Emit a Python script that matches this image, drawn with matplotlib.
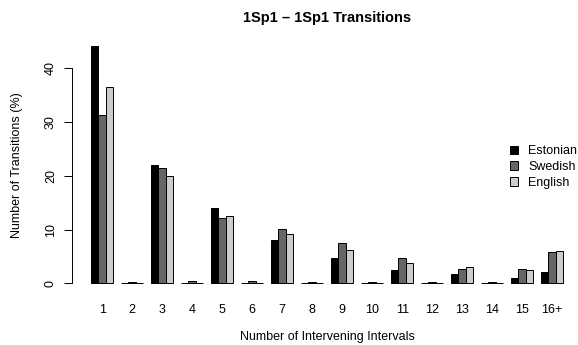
import matplotlib
matplotlib.use("Agg")
import matplotlib.pyplot as plt
import numpy as np
from matplotlib.patches import Patch

plt.rcParams['font.family'] = ['Liberation Sans', 'DejaVu Sans']

# data
intervals = ['1', '2', '3', '4', '5', '6', '7', '8', '9', '10', '11', '12', '13', '14', '15', '16+']
estonian = [44.1, 0.05, 22.0, 0.1, 14.0, 0.05, 8.1, 0.1, 4.7, 0.05, 2.5, 0.05, 1.7, 0.05, 0.97, 2.15]
swedish = [31.3, 0.2, 21.5, 0.35, 12.1, 0.35, 10.1, 0.3, 7.5, 0.2, 4.7, 0.2, 2.7, 0.3, 2.6, 5.8]
english = [36.6, 0.1, 20.0, 0.1, 12.5, 0.1, 9.2, 0.1, 6.25, 0.1, 3.8, 0.1, 2.95, 0.05, 2.45, 6.05]
languages = ['Estonian', 'Swedish', 'English']
colors = ['#000000', '#666666', '#cccccc']

W, H = 578, 345
fs = 9.0
fig = plt.figure(figsize=(W / 100, H / 100), dpi=100)
# plot region in pixels (R style barplot, region runs off the right edge)
left_px, bottom_px, top_px = 72, 293, 37.7
ax = fig.add_axes([left_px / W, 1 - bottom_px / H, 1 - left_px / W, (bottom_px - top_px) / H])

n = len(intervals)
base = 1 + 4 * np.arange(n)
for j, (vals, c) in enumerate(zip([estonian, swedish, english], colors)):
    ax.bar(base + j, vals, width=1, align='edge', color=c, edgecolor='black', linewidth=0.7)

ax.set_xlim(-1.52, -1.52 + (W - left_px) / 7.5)
ax.set_ylim(-1.8, 45.7)
ax.set_xticks(base + 1.5)
ax.set_xticklabels(intervals, fontsize=fs)
ax.tick_params(axis='x', length=0, pad=8)
ax.set_yticks([0, 10, 20, 30, 40])
ax.tick_params(axis='y', length=5.8, width=0.7, pad=5, labelsize=fs)
for lab in ax.get_yticklabels():
    lab.set_rotation(90)
    lab.set_va('center')

for s in ['top', 'right', 'bottom']:
    ax.spines[s].set_visible(False)
ax.spines['left'].set_bounds(0, 40)
ax.spines['left'].set_linewidth(0.7)

cx = (left_px + left_px + 68.04 * 7.5) / 2 / W
fig.text(cx, 1 - 18 / H, '1Sp1 \u2013 1Sp1 Transitions', ha='center', va='center',
         fontsize=10.5, fontweight='bold')
fig.text(cx, 1 - 337 / H, 'Number of Intervening Intervals', ha='center', va='center', fontsize=fs)
fig.text(17 / W, 1 - (bottom_px + top_px) / 2 / H, 'Number of Transitions (%)', rotation=90,
         ha='center', va='center', fontsize=fs)

handles = [Patch(facecolor=c, edgecolor='black', linewidth=0.7) for c in colors]
fig.legend(handles, languages, loc='center left', bbox_to_anchor=(510 / W, 1 - 167 / H),
           frameon=False, fontsize=fs, handlelength=0.65, handleheight=0.65,
           handletextpad=0.8, labelspacing=0.3, borderaxespad=0, borderpad=0)

fig.savefig('out.png', dpi=100)
